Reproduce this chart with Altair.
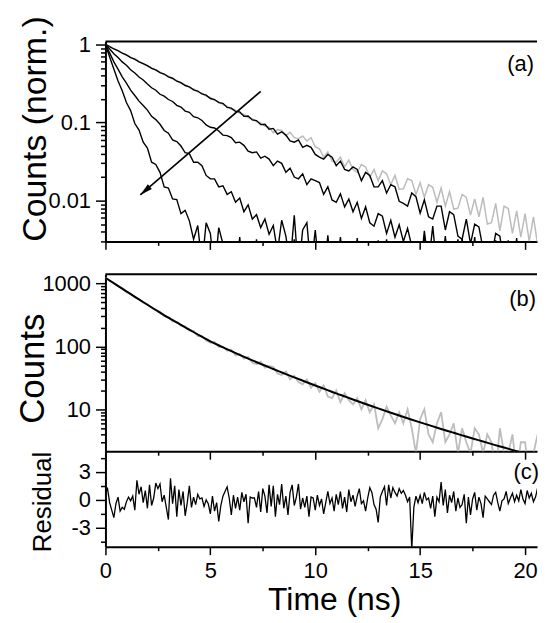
import altair as alt
import pandas as pd

FONT = "Liberation Sans"
W = 434
XMAX = 20.57
HA, HGAP, HB, HC = 201, 33, 178, 96

# time grids (ns)
times = [round(i * 0.2, 1) for i in range(106)]
res_times = [round(i * 0.1, 1) for i in range(211)]
fit_times = [round(i * 0.5, 1) for i in range(43)]

# ---------- panel (a): normalized decays ----------
gray_a = [
    1.0, 0.942, 0.885, 0.826, 0.779, 0.727, 0.688, 0.641, 0.607, 0.565,
    0.53, 0.503, 0.467, 0.443, 0.411, 0.391, 0.362, 0.345, 0.318, 0.305,
    0.28, 0.269, 0.247, 0.237, 0.218, 0.209, 0.192, 0.185, 0.169, 0.162,
    0.149, 0.143, 0.131, 0.127, 0.116, 0.112, 0.102, 0.099, 0.09, 0.087,
    0.074, 0.081, 0.079, 0.068, 0.075, 0.064, 0.062, 0.067, 0.058, 0.064,
    0.049, 0.046, 0.036, 0.042, 0.032, 0.031, 0.036, 0.027, 0.033, 0.025,
    0.023, 0.029, 0.027, 0.02, 0.025, 0.018, 0.024, 0.022, 0.016, 0.021,
    0.014, 0.0142, 0.019, 0.018, 0.012, 0.017, 0.011, 0.016, 0.0148, 0.0095,
    0.0145, 0.0085, 0.013, 0.0078, 0.008, 0.012, 0.011, 0.0065, 0.0105, 0.0062,
    0.011, 0.005, 0.0052, 0.0092, 0.0041, 0.0085, 0.0079, 0.0038, 0.0074, 0.0034,
    0.0068, 0.003, 0.0062, 0.0027, 0.0058, 0.0052,
]
black_a1 = [
    1.0, 0.94, 0.875, 0.832, 0.772, 0.733, 0.68, 0.648, 0.6, 0.57,
    0.535, 0.495, 0.472, 0.436, 0.418, 0.384, 0.369, 0.338, 0.324, 0.298,
    0.287, 0.262, 0.253, 0.232, 0.224, 0.203, 0.197, 0.18, 0.176, 0.156,
    0.153, 0.139, 0.137, 0.12, 0.121, 0.108, 0.106, 0.094, 0.095, 0.082,
    0.084, 0.071, 0.076, 0.069, 0.058, 0.056, 0.06, 0.048, 0.051, 0.048,
    0.039, 0.036, 0.034, 0.039, 0.036, 0.028, 0.032, 0.025, 0.024, 0.027,
    0.025, 0.018, 0.023, 0.021, 0.015, 0.015, 0.018, 0.0125, 0.016, 0.015,
    0.0098, 0.0092, 0.0085, 0.0125, 0.0112, 0.0069, 0.0102, 0.0062, 0.0058, 0.0085,
    0.0085, 0.0042, 0.0072, 0.0066, 0.0035, 0.0032, 0.0058, 0.0028, 0.005, 0.0046,
    0.0024, 0.0021, 0.0019, 0.0038, 0.0035, 0.0015, 0.0031, 0.0012, 0.0013, 0.0028,
    0.0025, 0.0012, 0.0014, 0.003, 0.0012, 0.0026,
]
black_a2 = [
    1.0, 0.874, 0.762, 0.679, 0.598, 0.541, 0.474, 0.43, 0.383, 0.351,
    0.311, 0.279, 0.259, 0.23, 0.218, 0.197, 0.186, 0.166, 0.158, 0.14,
    0.135, 0.119, 0.115, 0.106, 0.093, 0.087, 0.085, 0.078, 0.069, 0.068,
    0.064, 0.055, 0.056, 0.051, 0.043, 0.041, 0.042, 0.035, 0.037, 0.034,
    0.028, 0.032, 0.03, 0.023, 0.026, 0.02, 0.019, 0.022, 0.016, 0.019,
    0.018, 0.017, 0.012, 0.015, 0.0102, 0.0095, 0.0122, 0.0083, 0.0105, 0.0072,
    0.0095, 0.0059, 0.0083, 0.0052, 0.0047, 0.0068, 0.0063, 0.0038, 0.0056, 0.0034,
    0.0049, 0.003, 0.0044, 0.0026, 0.0014, 0.0012, 0.0041, 0.0015, 0.0047, 0.0013,
    0.0012, 0.0035, 0.001, 0.0012, 0.0032, 0.001, 0.0012, 0.001, 0.0034, 0.001,
    0.0012, 0.001, 0.001, 0.0031, 0.001, 0.0012, 0.001, 0.001, 0.0033, 0.001,
    0.001, 0.0012, 0.001, 0.0031, 0.001, 0.001,
]
black_a3 = [
    1.0, 0.78, 0.598, 0.482, 0.385, 0.319, 0.26, 0.222, 0.188, 0.165,
    0.144, 0.12, 0.109, 0.095, 0.079, 0.073, 0.06, 0.057, 0.05, 0.041,
    0.04, 0.031, 0.031, 0.028, 0.021, 0.019, 0.019, 0.015, 0.0155, 0.012,
    0.013, 0.0095, 0.0108, 0.0072, 0.0088, 0.0058, 0.0066, 0.0045, 0.0058, 0.0037,
    0.0048, 0.0022, 0.0056, 0.0035, 0.0015, 0.0065, 0.0012, 0.0042, 0.0052, 0.0013,
    0.0042, 0.0012, 0.001, 0.0036, 0.001, 0.0012, 0.0034, 0.001, 0.001, 0.001,
    0.0033, 0.001, 0.001, 0.001, 0.0012, 0.001, 0.001, 0.0032, 0.001, 0.001,
    0.001, 0.001, 0.0012, 0.001, 0.001, 0.001, 0.0034, 0.001, 0.001, 0.001,
    0.001, 0.001, 0.001, 0.001, 0.001, 0.0033, 0.001, 0.001, 0.001, 0.001,
    0.001, 0.001, 0.001, 0.001, 0.001, 0.001, 0.001, 0.001, 0.001, 0.001,
    0.001, 0.001, 0.001, 0.001, 0.001, 0.001,
]
black_a4 = [
    1.0, 0.69, 0.485, 0.34, 0.256, 0.18, 0.142, 0.097, 0.08, 0.056,
    0.047, 0.031, 0.029, 0.023, 0.015, 0.0145, 0.0105, 0.0103, 0.0068, 0.0075,
    0.0055, 0.0032, 0.0048, 0.0015, 0.0052, 0.0038, 0.0012, 0.0045, 0.0028, 0.0014,
    0.0012, 0.001, 0.0034, 0.001, 0.001, 0.001, 0.0032, 0.001, 0.001, 0.001,
    0.001, 0.001, 0.001, 0.001, 0.001, 0.0032, 0.001, 0.001, 0.001, 0.001,
    0.001, 0.001, 0.001, 0.001, 0.001, 0.001, 0.001, 0.001, 0.001, 0.001,
    0.001, 0.001, 0.001, 0.001, 0.001, 0.0031, 0.001, 0.001, 0.001, 0.001,
    0.001, 0.001, 0.001, 0.001, 0.001, 0.001, 0.001, 0.001, 0.001, 0.001,
    0.001, 0.001, 0.001, 0.001, 0.001, 0.001, 0.001, 0.001, 0.001, 0.001,
    0.001, 0.001, 0.001, 0.001, 0.001, 0.001, 0.001, 0.001, 0.001, 0.001,
    0.001, 0.001, 0.001, 0.001, 0.001, 0.001,
]
arrow_t = [7.4, 1.66]
arrow_v = [0.251, 0.0118]

# ---------- panel (b): counts and fit ----------
counts_b = [
    1250, 1095, 1025, 900, 842, 728, 690, 598, 566, 492,
    470, 405, 372, 356, 302, 291, 250, 246, 212, 208,
    178, 176, 146, 147, 124, 114, 117, 98, 99, 85,
    89, 72, 76, 64, 68, 55, 52, 57, 46, 49,
    47, 37, 35, 40, 30, 34, 27, 25, 30, 22,
    26, 19, 24, 16, 15, 20, 13, 18, 14, 12,
    15, 10, 14, 9, 12, 5, 7, 11, 8, 6,
    9, 6, 10, 5, 2, 7, 10, 4, 3, 6,
    9, 3, 4, 6, 2, 5, 3, 2, 5, 4,
    2, 4, 3, 1, 5, 2, 2, 4, 1, 3,
    3, 1, 2, 4, 1, 5,
]
fit_b = [
    1230, 957, 746, 583, 458, 361, 286, 229, 184, 148,
    120.5, 100.2, 83.9, 70.8, 60.0, 51.0, 43.7, 37.4, 32.1, 27.7,
    23.9, 20.7, 17.9, 15.6, 13.55, 11.83, 10.35, 9.08, 7.98, 7.03,
    6.21, 5.5, 4.88, 4.34, 3.86, 3.44, 3.08, 2.75, 2.47, 2.21,
    1.99, 1.78, 1.6,
]

# ---------- panel (c): residuals ----------
resid = [
    0.8, 1.2, -0.3, -1.1, -1.9, -0.4, 0.3, -1.2, -0.8, -1.0,
    -0.2, 0.3, -0.1, 0.4, -1.1, 2.1, 0.6, 1.4, -0.3, 1.0,
    -0.9, 1.6, -0.6, 0.2, 1.8, 1.2, 1.7, -0.2, 0.5, -0.8,
    -2.1, 2.3, -0.4, 1.5, -1.8, 1.1, -0.6, 0.9, -1.7, -0.3,
    1.5, -0.8, 0.3, -0.5, 0.6, 0.1, 0.2, -0.7, 0.0, -0.4,
    -1.5, 0.4, -1.2, -0.3, -2.3, -0.6, 0.4, 0.9, 1.4, 0.2,
    -1.6, 0.5, -0.9, 0.3, -1.1, 0.8, -0.2, 0.6, -2.5, 0.3,
    0.2, 0.2, -0.8, 0.9, -1.3, 1.2, 0.4, -1.4, 1.6, -0.7,
    1.5, -1.8, 0.6, -0.5, 1.7, -0.9, 0.4, -1.6, 0.8, 1.6,
    -0.6, 0.3, 1.7, -1.0, 0.2, -0.8, 0.4, -1.8, 0.3, 0.2,
    -1.1, 0.5, -0.6, 0.1, -1.5, -0.3, 0.9, -0.4, 0.2, -1.2,
    0.6, -0.5, 0.9, -0.9, 0.3, -1.3, 1.1, -0.2, 0.5, -0.7,
    0.4, 1.2, -0.4, -0.1, -1.2, 0.2, 1.3, 0.8, -0.5, -1.0,
    -2.4, 0.3, 0.9, 1.4, -0.6, 1.6, 0.2, 1.3, 0.8, 0.4,
    1.2, 0.7, 1.0, 0.5, -0.2, 0.3, -5.3, -0.8, 0.4, -0.3,
    0.5, -0.4, 0.8, 0.0, 0.2, -0.9, 0.4, -1.8, 0.3, -0.2,
    1.9, -0.6, 1.1, -1.4, 0.5, -0.3, 0.9, -1.2, 0.2, -0.8,
    -0.5, 0.6, -2.5, 0.3, -1.6, 0.1, 0.8, -1.1, 0.3, -0.4,
    -1.9, 0.4, 0.1, -0.2, -0.5, 0.5, 0.8, -0.3, -1.2, -0.1,
    0.1, 0.9, -0.4, 0.2, 0.7, -0.2, 0.5, -0.1, 1.1, 0.1,
    -0.4, 1.0, 0.2, 0.7, -0.2, 0.3, 1.3, -0.1, 0.6, -0.3, 0.9,
]

# ---------- tables ----------
gray_df = pd.DataFrame({"t": times, "v": gray_a})
black_df = pd.DataFrame(
    [{"t": t, "v": v, "s": name}
     for name, arr in [("a1", black_a1), ("a2", black_a2), ("a3", black_a3), ("a4", black_a4)]
     for t, v in zip(times, arr)]
)
arrow_df = pd.DataFrame({"t": arrow_t, "v": arrow_v})
arrow_tip = arrow_df.iloc[[1]]
counts_df = pd.DataFrame({"t": times, "v": counts_b})
fit_df = pd.DataFrame({"t": fit_times, "v": fit_b})
res_df = pd.DataFrame({"t": res_times, "r": resid})
one = pd.DataFrame({"k": [0]})

# ---------- axes ----------
x_scale = alt.Scale(domain=[0, XMAX], nice=False, zero=False)
x_ticks = [0, 2.5, 5, 7.5, 10, 12.5, 15, 17.5, 20]
TICK_X = {"condition": {"test": "datum.value % 5 == 0", "value": 8}, "value": 4}


def x_enc(show):
    if show:
        ax = alt.Axis(values=x_ticks, tickSize=TICK_X,
                      labelExpr="datum.value % 5 == 0 ? datum.value + '' : ''",
                      labelPadding=6, title="Time (ns)", titleFontSize=32,
                      titleX=230, titleY=63, titleBaseline="alphabetic")
    else:
        ax = alt.Axis(values=x_ticks, tickSize=TICK_X, labels=False, title=None)
    return alt.X("t:Q", scale=x_scale, axis=ax)


def log_ticks(lo_exp, hi_exp, vmin, vmax):
    vals = []
    for e in range(lo_exp, hi_exp + 1):
        for k in range(1, 10):
            v = round(k * 10 ** e, 6)
            if vmin <= v <= vmax:
                vals.append(v)
    return vals


ya_test = "indexof([0.01, 0.1, 1], datum.value) >= 0"
ya_axis = alt.Axis(
    values=log_ticks(-3, 0, 0.003, 1.0),
    tickSize={"condition": {"test": ya_test, "value": 10}, "value": 5},
    labelExpr=ya_test + " ? datum.value + '' : ''",
    labelPadding=5, title="Counts (norm.)", titleFontSize=34,
    titleX=-60, titleY=87.5, titleBaseline="alphabetic",
)
ya = alt.Y("v:Q", scale=alt.Scale(type="log", domain=[0.003, 1.09], nice=False), axis=ya_axis)

yb_test = "indexof([10, 100, 1000], datum.value) >= 0"
yb_axis = alt.Axis(
    values=log_ticks(0, 3, 2.2, 1400),
    tickSize={"condition": {"test": yb_test, "value": 10}, "value": 5},
    labelExpr=yb_test + " ? datum.value + '' : ''",
    labelPadding=5, title="Counts", titleFontSize=35,
    titleX=-62, titleY=94.5, titleBaseline="alphabetic",
)
yb = alt.Y("v:Q", scale=alt.Scale(type="log", domain=[2.16, 1400], nice=False), axis=yb_axis)

yc_test = "datum.value % 3 == 0"
yc_axis = alt.Axis(
    values=[-4.5, -3, -1.5, 0, 1.5, 3, 4.5],
    tickSize={"condition": {"test": yc_test, "value": 10}, "value": 5},
    labelExpr=yc_test + " ? datum.value + '' : ''",
    labelPadding=5, title="Residual", titleFontSize=26,
    titleX=-55, titleY=50.5, titleBaseline="alphabetic",
)
yc = alt.Y("r:Q", scale=alt.Scale(domain=[-5.0, 5.2], nice=False, zero=False), axis=yc_axis)


def top_rule():
    return alt.Chart(one).mark_rule(color="black", strokeWidth=2).encode(
        x=alt.value(0), x2=alt.value(W), y=alt.value(0))


def panel_label(txt, x, y):
    return alt.Chart(one).mark_text(
        text=txt, align="right", baseline="alphabetic", font=FONT, fontSize=22, color="black"
    ).encode(x=alt.value(x), y=alt.value(y))


# ---------- panel (a) ----------
xa = x_enc(False)
pa = alt.layer(
    alt.Chart(gray_df).mark_line(color="#bcbcbc", strokeWidth=1.5, clip=True).encode(x=xa, y=ya),
    alt.Chart(black_df).mark_line(color="black", strokeWidth=1.4, clip=True).encode(x=xa, y=ya, detail="s:N"),
    alt.Chart(arrow_df).mark_line(color="black", strokeWidth=1.6).encode(x=xa, y=ya),
    alt.Chart(arrow_tip).mark_point(
        shape="M0,0L-0.24,-1L0.24,-1Z", angle=49, size=650, filled=True,
        color="black", opacity=1, strokeWidth=0
    ).encode(x=xa, y=ya),
    top_rule(),
    panel_label("(a)", W - 3, 29.5),
).properties(width=W, height=HA)

spacer = alt.Chart(one).mark_point(opacity=0).encode(
    x=alt.value(0), y=alt.value(0)).properties(width=W, height=HGAP)

# ---------- panel (b) ----------
xb = x_enc(False)
pb = alt.layer(
    alt.Chart(counts_df).mark_line(color="#bdbdbd", strokeWidth=1.8, clip=True).encode(x=xb, y=yb),
    alt.Chart(fit_df).mark_line(color="black", strokeWidth=2, clip=True, interpolate="monotone").encode(x=xb, y=yb),
    top_rule(),
    panel_label("(b)", W - 1, 32),
).properties(width=W, height=HB)

# ---------- panel (c) ----------
xc = x_enc(True)
pc = alt.layer(
    alt.Chart(res_df).mark_line(color="black", strokeWidth=1.3, clip=True).encode(x=xc, y=yc),
    panel_label("(c)", W + 2, 28),
).properties(width=W, height=HC)

chart = alt.vconcat(pa, spacer, pb, pc, spacing=0, bounds="flush").properties(
    padding={"left": 7, "top": 6, "right": 0, "bottom": 0}
).configure_view(stroke=None).configure_axis(
    labelFont=FONT, titleFont=FONT, labelFontSize=22, labelColor="black",
    titleColor="black", titleFontWeight="normal", domainColor="black",
    domainWidth=2, tickColor="black", tickWidth=1.5, grid=False,
    labelFlush=False, labelOverlap=False,
)

chart.save("out.html", embed_options={"renderer": "svg", "actions": False})
